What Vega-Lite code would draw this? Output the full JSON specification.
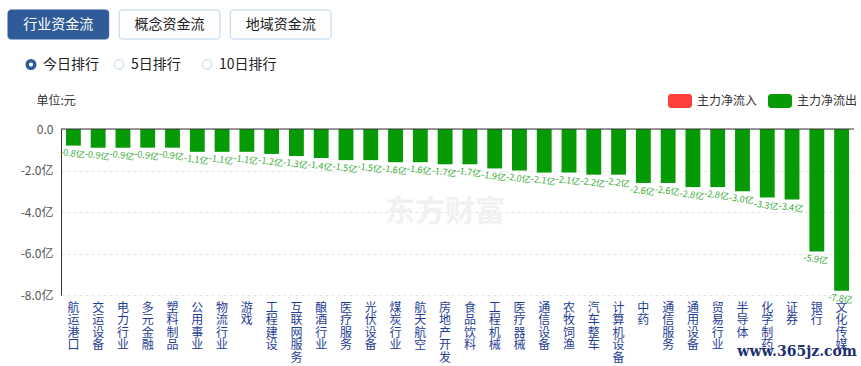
{
  "$schema": "https://vega.github.io/schema/vega-lite/v6.json",
  "background": "white",
  "padding": {"left": 7, "top": 9, "right": 0, "bottom": 0},
  "columns": 1,
  "spacing": 0,
  "resolve": {"scale": {"color": "independent"}, "legend": {"color": "independent"}},
  "config": {
    "view": {"stroke": null},
    "font": "Noto Sans CJK SC",
    "locale": {"number": {"decimal": ".", "thousands": ",", "grouping": [3], "currency": ["", "亿"], "minus": "-"}}
  },
  "datasets": {
    "tabs": [
      {"tab": "行业资金流", "active": true},
      {"tab": "概念资金流", "active": false},
      {"tab": "地域资金流", "active": false}
    ],
    "ranks": [
      {"rank": "今日排行", "active": true},
      {"rank": "5日排行", "active": false},
      {"rank": "10日排行", "active": false}
    ],
    "flows": [
      {"name": "航运港口", "value": -0.8, "flow": "主力净流出"},
      {"name": "交运设备", "value": -0.9, "flow": "主力净流出"},
      {"name": "电力行业", "value": -0.9, "flow": "主力净流出"},
      {"name": "多元金融", "value": -0.9, "flow": "主力净流出"},
      {"name": "塑料制品", "value": -0.9, "flow": "主力净流出"},
      {"name": "公用事业", "value": -1.1, "flow": "主力净流出"},
      {"name": "物流行业", "value": -1.1, "flow": "主力净流出"},
      {"name": "游戏", "value": -1.1, "flow": "主力净流出"},
      {"name": "工程建设", "value": -1.2, "flow": "主力净流出"},
      {"name": "互联网服务", "value": -1.3, "flow": "主力净流出"},
      {"name": "酿酒行业", "value": -1.4, "flow": "主力净流出"},
      {"name": "医疗服务", "value": -1.5, "flow": "主力净流出"},
      {"name": "光伏设备", "value": -1.5, "flow": "主力净流出"},
      {"name": "煤炭行业", "value": -1.6, "flow": "主力净流出"},
      {"name": "航天航空", "value": -1.6, "flow": "主力净流出"},
      {"name": "房地产开发", "value": -1.7, "flow": "主力净流出"},
      {"name": "食品饮料", "value": -1.7, "flow": "主力净流出"},
      {"name": "工程机械", "value": -1.9, "flow": "主力净流出"},
      {"name": "医疗器械", "value": -2.0, "flow": "主力净流出"},
      {"name": "通信设备", "value": -2.1, "flow": "主力净流出"},
      {"name": "农牧饲渔", "value": -2.1, "flow": "主力净流出"},
      {"name": "汽车整车", "value": -2.2, "flow": "主力净流出"},
      {"name": "计算机设备", "value": -2.2, "flow": "主力净流出"},
      {"name": "中药", "value": -2.6, "flow": "主力净流出"},
      {"name": "通信服务", "value": -2.6, "flow": "主力净流出"},
      {"name": "通用设备", "value": -2.8, "flow": "主力净流出"},
      {"name": "贸易行业", "value": -2.8, "flow": "主力净流出"},
      {"name": "半导体", "value": -3.0, "flow": "主力净流出"},
      {"name": "化学制药", "value": -3.3, "flow": "主力净流出"},
      {"name": "证券", "value": -3.4, "flow": "主力净流出"},
      {"name": "银行", "value": -5.9, "flow": "主力净流出"},
      {"name": "文化传媒", "value": -7.8, "flow": "主力净流出"}
    ]
  },
  "concat": [
    {
      "width": 270,
      "height": 29,
      "data": {"name": "tabs"},
      "encoding": {
        "x": {"field": "tab", "type": "nominal", "sort": null, "scale": {"range": [-53, 270], "paddingInner": 0.094, "paddingOuter": 0}, "axis": null}
      },
      "layer": [
        {
          "mark": {"type": "rect", "cornerRadius": 3, "strokeWidth": 1},
          "encoding": {
            "fill": {"condition": {"test": "datum.active", "value": "#2f5b98"}, "value": "#ffffff"},
            "stroke": {"condition": {"test": "datum.active", "value": "#2f5b98"}, "value": "#b8d2ec"}
          }
        },
        {
          "mark": {"type": "text", "fontSize": 14},
          "encoding": {
            "text": {"field": "tab"},
            "color": {"condition": {"test": "datum.active", "value": "#ffffff"}, "value": "#222222"}
          }
        }
      ]
    },
    {
      "width": 146,
      "height": 49,
      "data": {"name": "ranks"},
      "encoding": {
        "x": {"field": "rank", "type": "nominal", "sort": null, "scale": {"type": "point", "range": [-30, 146], "padding": 0}, "axis": null}
      },
      "layer": [
        {
          "mark": {"type": "point", "shape": "circle", "filled": false, "fill": "#ffffff", "opacity": 1},
          "encoding": {
            "size": {"condition": {"test": "datum.active", "value": 57}, "value": 95},
            "stroke": {"condition": {"test": "datum.active", "value": "#2f5b98"}, "value": "#c3d6ea"},
            "strokeWidth": {"condition": {"test": "datum.active", "value": 3.5}, "value": 1}
          }
        },
        {
          "mark": {"type": "text", "align": "left", "dx": 12, "fontSize": 14, "color": "#222222"},
          "encoding": {"text": {"field": "rank"}}
        }
      ]
    },
    {
      "width": 793,
      "height": 166,
      "layer": [
        {
          "data": {"name": "flows"},
          "mark": {"type": "bar"},
          "encoding": {
            "x": {
              "field": "name", "type": "nominal", "sort": null,
              "scale": {"paddingInner": 0.4, "paddingOuter": 0.2},
              "axis": {
                "title": null, "orient": "bottom", "domain": false, "ticks": false, "grid": false,
                "labelAngle": 0, "labelExpr": "split(datum.label, '')", "labelFontSize": 12,
                "labelLineHeight": 12.5, "labelColor": "#1f3d96", "labelPadding": 7, "labelBaseline": "top"
              }
            },
            "y": {
              "field": "value", "type": "quantitative",
              "scale": {"domain": [-8, 0], "nice": false},
              "axis": {
                "values": [0, -2, -4, -6, -8], "format": "$.1f",
                "labelExpr": "datum.value == 0 ? '0.0' : datum.label",
                "title": "单位:元", "titleAngle": 0, "titleAlign": "left", "titleBaseline": "middle",
                "titleX": -25, "titleY": -29, "titleFontSize": 12, "titleFontWeight": "normal", "titleColor": "#333333",
                "labelColor": "#555555", "labelFontSize": 12, "labelPadding": 8, "ticks": false,
                "domainColor": "#333333", "gridColor": "#e4e4e4", "gridDash": [3, 3], "minExtent": 53
              }
            },
            "color": {
              "field": "flow", "type": "nominal",
              "scale": {"domain": ["主力净流入", "主力净流出"], "range": ["#ff3e3e", "#079a07"]},
              "legend": {
                "orient": "none", "legendX": 607, "legendY": -40, "direction": "horizontal", "title": null,
                "symbolType": "M-0.75,-0.58H0.75A0.25,0.25 0 0 1 1,-0.33V0.33A0.25,0.25 0 0 1 0.75,0.58H-0.75A0.25,0.25 0 0 1 -1,0.33V-0.33A0.25,0.25 0 0 1 -0.75,-0.58Z",
                "symbolSize": 576, "symbolStrokeWidth": 0, "symbolOpacity": 1,
                "labelFontSize": 12, "labelColor": "#333333", "labelOffset": 5, "columnPadding": 10
              }
            }
          }
        },
        {
          "data": {"name": "flows"},
          "mark": {"type": "text", "baseline": "top", "dy": 4, "angle": 8, "fontSize": 9, "color": "#35aa35"},
          "encoding": {
            "x": {"field": "name", "type": "nominal", "sort": null},
            "y": {"field": "value", "type": "quantitative"},
            "text": {"field": "value", "type": "quantitative", "format": "$.1f"}
          }
        },
        {
          "data": {"values": [{"level": 0}]},
          "mark": {"type": "rule", "color": "#333333", "strokeWidth": 1},
          "encoding": {"y": {"field": "level", "type": "quantitative"}}
        },
        {
          "data": {"values": [{"mark": "东方财富"}]},
          "mark": {"type": "text", "fontSize": 30, "fontWeight": "bold", "color": "#f1f1f1"},
          "encoding": {
            "x": {"datum": "房地产开发"},
            "y": {"datum": -4},
            "text": {"field": "mark"}
          }
        },
        {
          "data": {"values": [{"mark": "www.365jz.com"}]},
          "mark": {"type": "text", "fontSize": 14, "fontWeight": "bold", "font": "DejaVu Serif", "color": "#1d2f6e", "dx": 5},
          "encoding": {
            "x": {"datum": "证券"},
            "y": {"datum": -10.75},
            "text": {"field": "mark"}
          }
        }
      ]
    }
  ]
}
